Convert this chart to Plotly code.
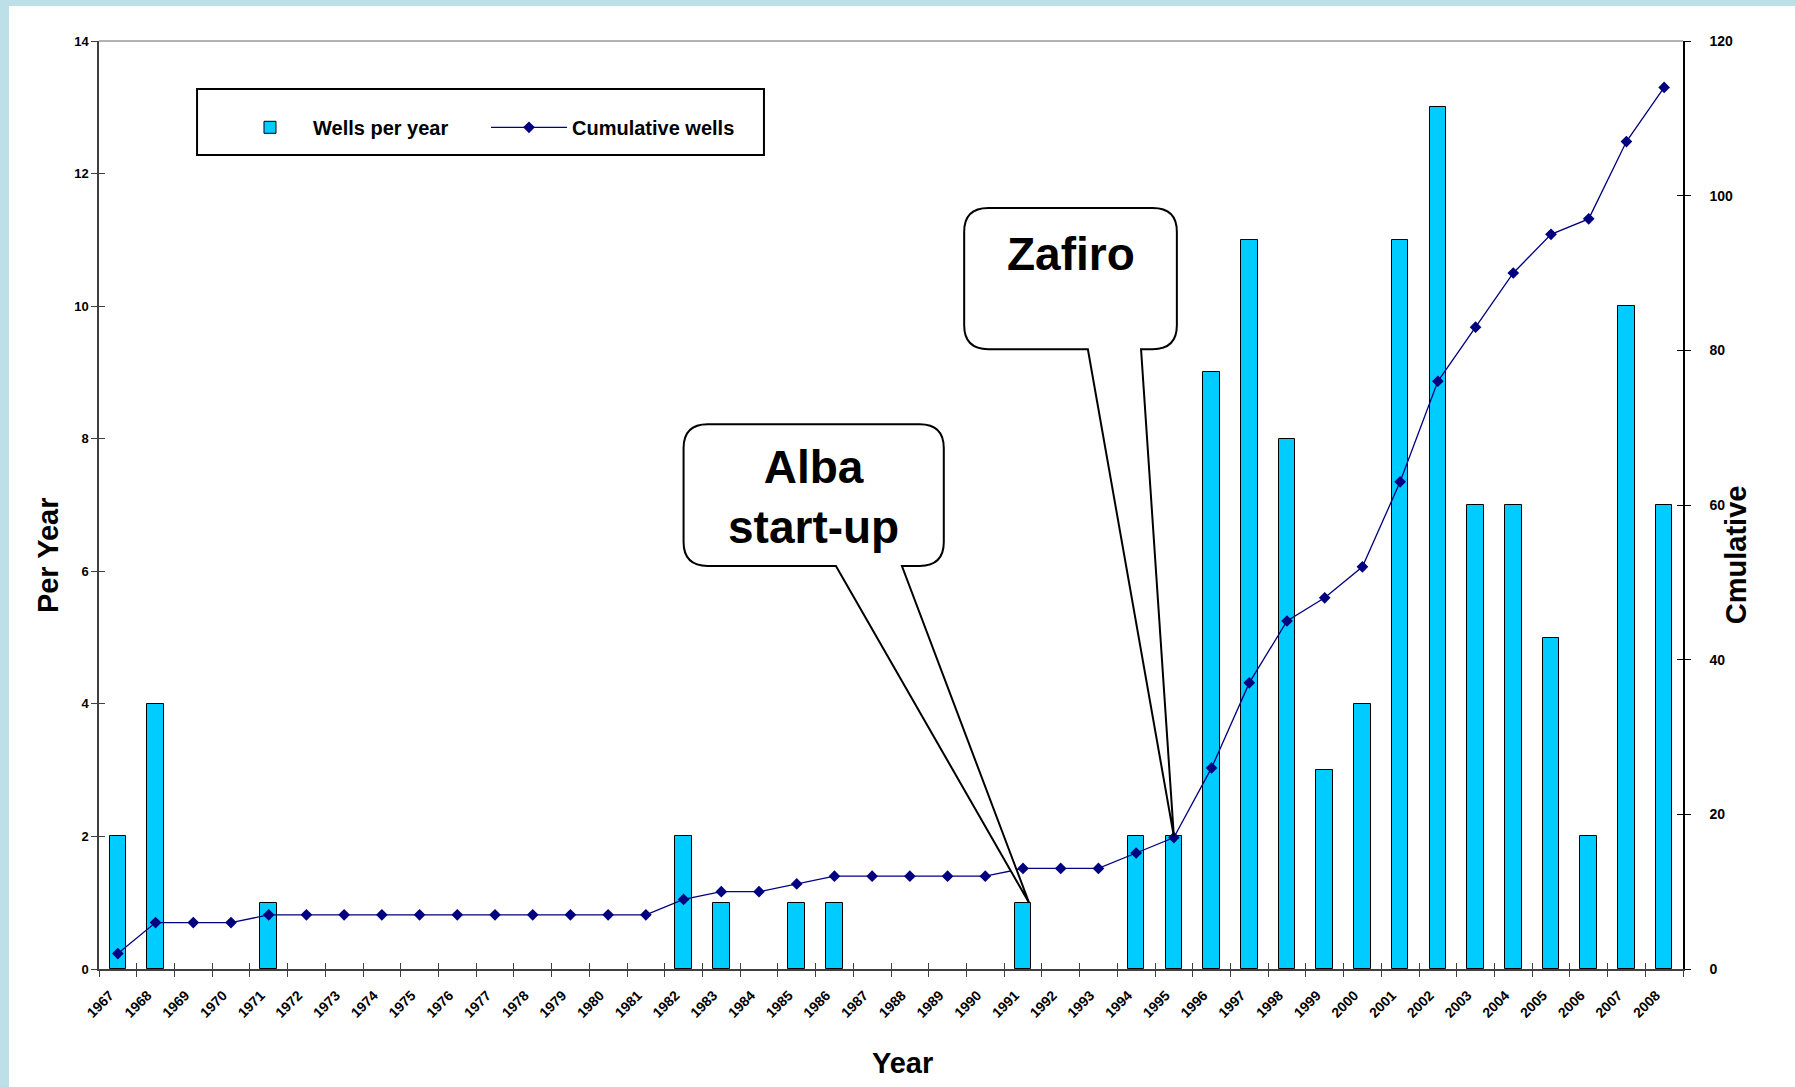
import plotly.graph_objects as go

# ---------------- data ----------------
years = list(range(1967, 2009))
year_labels = [str(y) for y in years]
wells_per_year = [2, 4, 0, 0, 1,
                  0, 0, 0, 0, 0, 0, 0, 0, 0, 0,
                  2, 1, 0, 1, 1,
                  0, 0, 0, 0,
                  1, 0, 0, 2, 2,
                  9, 11, 8, 3, 4, 11, 13, 7, 7, 5, 2, 10, 7]
cumulative_wells = [2, 6, 6, 6, 7,
                    7, 7, 7, 7, 7, 7, 7, 7, 7, 7,
                    9, 10, 10, 11, 12,
                    12, 12, 12, 12,
                    13, 13, 13, 15, 17,
                    26, 37, 45, 48, 52, 63, 76, 83, 90, 95, 97, 107, 114]
left_ticks = [0, 2, 4, 6, 8, 10, 12, 14]
right_ticks = [0, 20, 40, 60, 80, 100, 120]

FONT = "Liberation Sans, Arial, sans-serif"
AXC = "#404040"

x_range = [years[0] - 0.5, years[-1] + 0.5]
bounds = [y - 0.5 for y in years] + [years[-1] + 0.5]

fig = go.Figure()
fig.add_trace(go.Bar(
    x=years, y=wells_per_year, name="Wells per year", width=0.44,
    marker=dict(color="#00CCFF",
                line=dict(color="black", width=[1 if v > 0 else 0 for v in wells_per_year])),
))
fig.add_trace(go.Scatter(
    x=years, y=cumulative_wells, name="Cumulative wells", yaxis="y2",
    mode="lines+markers",
    line=dict(color="#000080", width=1.3),
    marker=dict(symbol="diamond", size=9, color="#000080"),
))
# empty helper traces so the overlay tick axes are drawn
fig.add_trace(go.Scatter(x=[], y=[], xaxis="x3", yaxis="y", showlegend=False, hoverinfo="skip"))
fig.add_trace(go.Scatter(x=[], y=[], xaxis="x", yaxis="y3", showlegend=False, hoverinfo="skip"))
fig.add_trace(go.Scatter(x=[], y=[], xaxis="x", yaxis="y4", showlegend=False, hoverinfo="skip"))

# ---------------- callouts ----------------
def callout(x0, x1, y0, y1, bx0, bx1, tx, ty, rx, ry):
    return (f"M{x0+rx},{y1} L{x1-rx},{y1} Q{x1},{y1} {x1},{y1-ry} "
            f"L{x1},{y0+ry} Q{x1},{y0} {x1-rx},{y0} L{bx1},{y0} L{tx},{ty} "
            f"L{bx0},{y0} L{x0+rx},{y0} Q{x0},{y0} {x0},{y0+ry} "
            f"L{x0},{y1-ry} Q{x0},{y1} {x0+rx},{y1} Z")

i91 = years.index(1991)
i95 = years.index(1995)
alba_path = callout(1982.0, 1988.9, 6.08, 8.22, 1986.04, 1987.79,
                    years[i91] + 0.16, wells_per_year[i91], 0.64, 0.36)
zafiro_path = callout(1989.44, 1995.08, 9.35, 11.48, 1992.72, 1994.13,
                      years[i95], wells_per_year[i95], 0.64, 0.36)

shapes = [
    # white panel on the light-blue page
    dict(type="rect", xref="paper", yref="paper", x0=-0.0568, x1=1.2, y0=-0.3, y1=1.0377,
         fillcolor="white", line=dict(width=0), layer="below"),
    # legend frame
    dict(type="rect", xref="paper", yref="paper", x0=0.0619, x1=0.4198, y0=0.8772, y1=0.9483,
         fillcolor="white", line=dict(color="black", width=2), layer="below"),
    # top border of plot area
    dict(type="line", xref="paper", yref="paper", x0=0, x1=1, y0=1, y1=1,
         line=dict(color="#999999", width=1.5)),
    dict(type="path", xref="x", yref="y", path=alba_path, fillcolor="white",
         line=dict(color="black", width=2), layer="above"),
    dict(type="path", xref="x", yref="y", path=zafiro_path, fillcolor="white",
         line=dict(color="black", width=2), layer="above"),
]

title_font = dict(family=FONT, size=29, color="black", weight="bold")
annotations = [
    dict(text="Alba<br>start-up", x=1985.45, y=7.12, xref="x", yref="y", showarrow=False,
         xanchor="center", yanchor="middle",
         font=dict(family=FONT, size=46, color="black", weight="bold"), align="center"),
    dict(text="Zafiro", x=1992.26, y=10.79, xref="x", yref="y", showarrow=False,
         xanchor="center", yanchor="middle",
         font=dict(family=FONT, size=46, color="black", weight="bold")),
    dict(text="Per Year", x=-0.0322, y=0.446, xref="paper", yref="paper", showarrow=False,
         xanchor="center", yanchor="middle", textangle=-90, font=title_font),
    dict(text="Cmulative", x=1.0335, y=0.446, xref="paper", yref="paper", showarrow=False,
         xanchor="center", yanchor="middle", textangle=-90, font=title_font),
    dict(text="Year", x=0.507, y=-0.101, xref="paper", yref="paper", showarrow=False,
         xanchor="center", yanchor="middle", font=title_font),
]

fig.update_layout(
    width=1795, height=1087,
    margin=dict(l=99, r=112, t=41, b=118, pad=0),
    paper_bgcolor="#bcdfe8", plot_bgcolor="white",
    font=dict(family=FONT, color="black"),
    showlegend=True,
    legend=dict(orientation="h", x=0.0808, xanchor="left", y=0.907, yanchor="middle",
                bgcolor="rgba(0,0,0,0)", borderwidth=0,
                font=dict(family=FONT, size=20, color="black", weight="bold"),
                itemwidth=76, entrywidth=168, entrywidthmode="pixels"),
    bargap=0,
    xaxis=dict(range=x_range, tickmode="array", tickvals=years, ticktext=year_labels,
               tickangle=-45, tickfont=dict(family=FONT, size=14, color="black", weight="bold"),
               ticks="outside", ticklen=0,
               showgrid=False, zeroline=False, showline=True, linecolor=AXC, linewidth=1.5,
               ticklabelstandoff=11, ticklabelshift=-8,
               minor=dict(tickmode="array", tickvals=bounds, ticks="outside", ticklen=6,
                          tickwidth=1.2, tickcolor=AXC, showgrid=False)),
    xaxis3=dict(range=x_range, overlaying="x", anchor="y", side="bottom",
                tickmode="array", tickvals=bounds, ticks="inside", ticklen=6, tickwidth=1.2,
                tickcolor=AXC, showticklabels=False, showgrid=False, zeroline=False,
                showline=False),
    yaxis=dict(range=[0, 14], tickmode="array", tickvals=left_ticks,
               tickfont=dict(family=FONT, size=13, color="black", weight="bold"),
               ticks="outside", ticklen=6, tickwidth=1.2, tickcolor=AXC,
               showgrid=False, zeroline=False, showline=True, linecolor=AXC, linewidth=1.5),
    yaxis3=dict(range=[0, 14], overlaying="y", side="left", anchor="x",
                tickmode="array", tickvals=left_ticks, ticks="inside", ticklen=6,
                tickwidth=1.2, tickcolor=AXC, showticklabels=False, showgrid=False,
                zeroline=False, showline=False),
    yaxis2=dict(range=[0, 120], overlaying="y", side="right", anchor="x",
                tickmode="array", tickvals=right_ticks,
                tickfont=dict(family=FONT, size=14, color="black", weight="bold"),
                ticks="outside", ticklen=6, tickwidth=1.2, tickcolor="black",
                ticklabelstandoff=16,
                showgrid=False, zeroline=False, showline=True, linecolor="black", linewidth=1.5),
    yaxis4=dict(range=[0, 120], overlaying="y", side="right", anchor="x",
                tickmode="array", tickvals=right_ticks, ticks="inside", ticklen=6,
                tickwidth=1.2, tickcolor="black", showticklabels=False, showgrid=False,
                zeroline=False, showline=False),
    shapes=shapes,
    annotations=annotations,
)

fig.write_html(
    "out.html",
    config={"displayModeBar": False},
    post_script="document.body.style.margin='0';document.body.style.overflow='hidden';"
                "document.body.style.background='#bcdfe8';",
)
